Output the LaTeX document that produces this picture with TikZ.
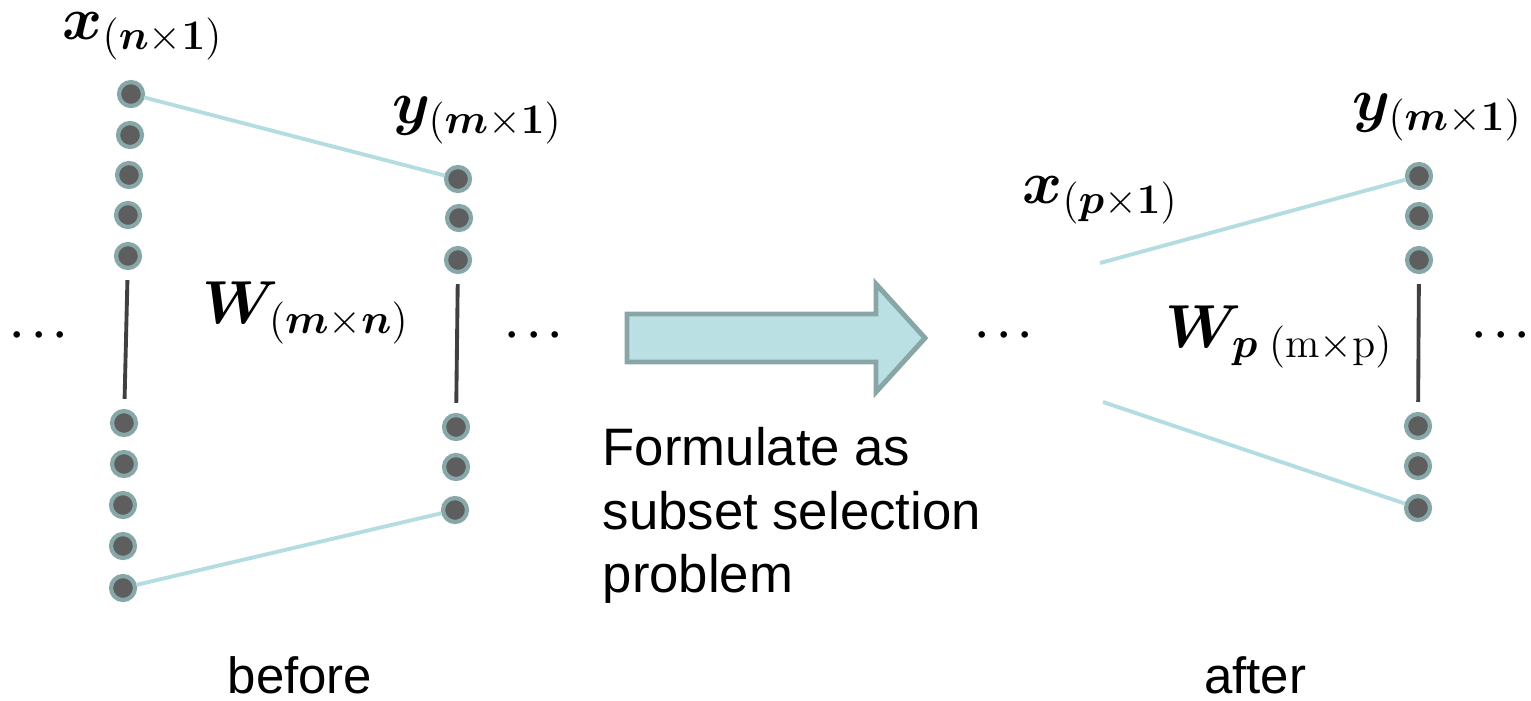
\documentclass[tikz,border=0pt]{standalone}
\usepackage{amsmath,amssymb}
\usepackage{bm}
\usepackage[no-math]{fontspec}
\setmainfont{Liberation Sans}
\usepackage{tikz}
\DeclareMathSizes{17.28}{17.28}{12}{10}
\definecolor{dotgray}{HTML}{5E5E5E}
\definecolor{dotring}{HTML}{88A7A8}
\definecolor{linkblue}{HTML}{B3DDE0}
\definecolor{darkline}{HTML}{404040}
\definecolor{arrowfill}{HTML}{BBE0E3}
\definecolor{arrowedge}{HTML}{89A6A6}
\tikzset{
  neuron/.style={circle, fill=dotgray, draw=dotring, line width=1.2pt, minimum size=0.24cm, inner sep=0pt},
  link/.style={linkblue, line width=1.1pt},
  weight/.style={darkline, line width=1.1pt, shorten <=0.1cm, shorten >=0.1cm},
  lbl/.style={font=\fontsize{17.28}{19}\selectfont, inner sep=0pt, anchor=base west},
  dots/.style={font=\fontsize{12.4}{14}\selectfont, inner sep=0pt},
  caption/.style={font=\fontsize{14.5}{18}\selectfont, inner sep=0pt}
}

\begin{document}
\begin{tikzpicture}
		\useasboundingbox (0,0) rectangle (15.31,7);
		% input and output units
		\foreach \n/\x/\y in {x1/1.31/6.06, x2/1.30/5.65, x3/1.29/5.25, x4/1.28/4.85, x5/1.28/4.44,
		  x6/1.24/2.77, x7/1.24/2.36, x8/1.23/1.95, x9/1.23/1.54, x10/1.23/1.12,
		  y1/4.58/5.21, y2/4.59/4.82, y3/4.58/4.40, y4/4.56/2.73, y5/4.56/2.33, y6/4.55/1.90,
		  r1/14.19/5.24, r2/14.19/4.84, r3/14.19/4.40, r4/14.18/2.74, r5/14.18/2.34, r6/14.18/1.92}
		  \node[neuron] (\n) at (\x,\y) {};
		\coordinate (p1) at (11.00,4.37);
		\coordinate (p2) at (11.03,2.98);
		\draw[link] (x1) -- (y1);
		\draw[link] (x10) -- (y6);
		\draw[link] (p1) -- (r1);
		\draw[link] (p2) -- (r6);
		\draw[weight] (x5) -- (x6);
		\draw[weight] (y3) -- (y4);
		\draw[weight] (r3) -- (r4);
		% labels
		\node[lbl] (xn) at (0.62,6.61) {$\bm{x}_{(\bm{n}\times\bm{1})}$};
		\node[lbl] (ym) at (3.92,5.77) {$\bm{y}_{(\bm{m}\times\bm{1})}$};
		\node[lbl] (wmn) at (2.02,3.77) {$\bm{W}_{(\bm{m}\times\bm{n})}$};
		\node[lbl] (xp) at (10.22,4.97) {$\bm{x}_{(\bm{p}\times\bm{1})}$};
		\node[lbl] (ym2) at (13.52,5.80) {$\bm{y}_{(\bm{m}\times\bm{1})}$};
		\node[lbl] (wp) at (11.65,3.53) {$\bm{W}_{\bm{p}\;(\mathrm{m}\times\mathrm{p})}$};
		\foreach \n/\x in {d1/0.43, d2/5.38, d3/10.08, d4/15.05}
		  \node[dots] (\n) at (\x,3.65) {$\bm{\cdots}$};
		% transition arrow
		\draw[arrowedge, fill=arrowfill, line width=1.4pt, line join=miter]
		  (6.27,3.86) -- (8.76,3.86) -- (8.76,4.16) -- (9.25,3.62) -- (8.76,3.08)
		  -- (8.76,3.38) -- (6.27,3.38) -- cycle;
		\node[caption, font=\fontsize{15}{18}\selectfont, anchor=north west, align=left] (task) at (6.02,2.73)
		  {Formulate as\\subset selection\\problem};
		\node[caption, anchor=base] (before) at (3.00,0.07) {before};
		\node[caption, anchor=base] (after) at (12.55,0.07) {after};
	\end{tikzpicture}
\end{document}
